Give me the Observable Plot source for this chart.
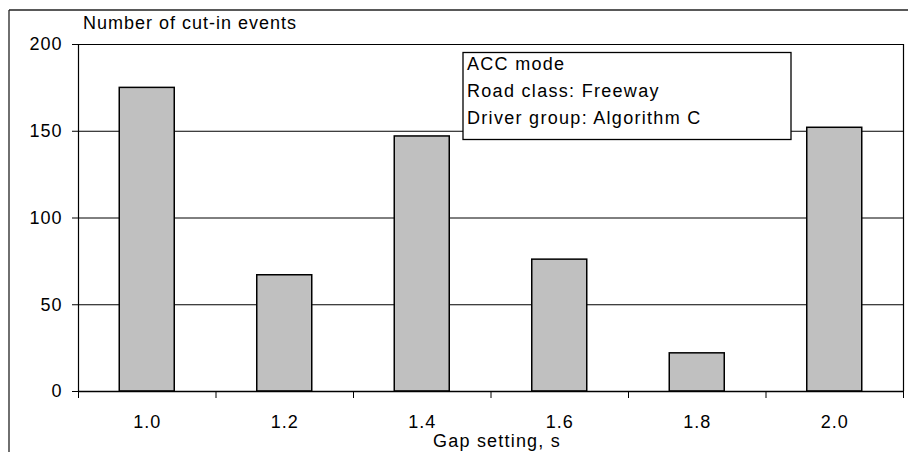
<!DOCTYPE html>
<html>
<head>
<meta charset="utf-8">
<script src="https://cdn.jsdelivr.net/npm/d3@7"></script>
<script src="https://cdn.jsdelivr.net/npm/@observablehq/plot@0.6"></script>
<style>
  html, body { margin: 0; padding: 0; background: #fff; }
  #chart svg { display: block; }
</style>
</head>
<body>
<div id="chart"></div>
<script>
// ---- Data ----
const gaps = [1.0, 1.2, 1.4, 1.6, 1.8, 2.0];
const counts = [175, 67, 147, 76, 22, 152];
const xTickLabels = ["1.0", "1.2", "1.4", "1.6", "1.8", "2.0"];
const xBoundaries = [0.9, 1.1, 1.3, 1.5, 1.7, 1.9, 2.1];
const yTicks = [0, 50, 100, 150, 200];
const yTitle = "Number of cut-in events";
const xTitle = "Gap setting, s";
const legendLines = ["ACC mode", "Road class: Freeway", "Driver group: Algorithm C"];

const data = gaps.map((g, i) => ({gap: g, count: counts[i], label: xTickLabels[i]}));
const halfBar = 0.04; // bar half-width in gap units (gap width 150%)

const FONT = "'Liberation Sans', Arial, sans-serif";

const chart = Plot.plot({
  width: 908,
  height: 452,
  marginLeft: 78,
  marginRight: 5,
  marginTop: 44,
  marginBottom: 61,
  x: {domain: [0.9, 2.1], axis: null},
  y: {domain: [0, 200], axis: null},
  style: {fontFamily: FONT, fontSize: "18px", color: "#000", background: "#fff", overflow: "visible"},
  marks: [
    Plot.ruleY(yTicks.filter(v => v > 0), {stroke: "#000", strokeWidth: 1}),
    Plot.rect(data, {
      x1: d => d.gap - halfBar, x2: d => d.gap + halfBar,
      y1: 0, y2: "count",
      fill: "#c0c0c0", stroke: "#000", strokeWidth: 1.5
    }),
    Plot.axisY({ticks: yTicks, tickSize: 6, tickPadding: 10, label: null, fontSize: 18, stroke: "#000", strokeOpacity: 1}),
    Plot.axisX({ticks: xBoundaries, tickSize: 7, tickFormat: () => "", label: null, stroke: "#000", strokeOpacity: 1}),
    Plot.axisX({ticks: gaps, tickSize: 0, tickPadding: 24, tickFormat: d => xTickLabels[gaps.indexOf(d)], label: null, fontSize: 18}),
    Plot.ruleX([0.9, 2.1], {y1: 0, y2: 200, stroke: "#000", strokeWidth: 1.2}),
    Plot.ruleY([0], {stroke: "#000", strokeWidth: 1.4})
  ]
});

const svg = d3.select(chart);
svg.selectAll("text").style("letter-spacing", "1px");

// outer frame (chart border, partially visible)
svg.append("line").attr("x1", 9).attr("x2", 908).attr("y1", 10).attr("y2", 10)
  .attr("stroke", "#222").attr("stroke-width", 1.3);
svg.append("line").attr("x1", 9).attr("x2", 9).attr("y1", 10).attr("y2", 452)
  .attr("stroke", "#222").attr("stroke-width", 1.3);

// axis titles
svg.append("text").attr("x", 83).attr("y", 29).attr("text-anchor", "start").text(yTitle)
  .attr("font-family", FONT).attr("font-size", 18).style("letter-spacing", "1px").attr("fill", "#000");
svg.append("text").attr("x", 497).attr("y", 447).attr("text-anchor", "middle").text(xTitle)
  .attr("font-family", FONT).attr("font-size", 18).style("letter-spacing", "1.2px").attr("fill", "#000");

// legend box
const lg = svg.append("g");
lg.append("rect").attr("x", 463).attr("y", 52.5).attr("width", 328).attr("height", 87)
  .attr("fill", "#fff").attr("stroke", "#000").attr("stroke-width", 1.3);
const baselines = [70, 97, 123.5];
legendLines.forEach((t, i) => {
  lg.append("text").attr("x", 467).attr("y", baselines[i]).attr("text-anchor", "start").text(t)
    .attr("font-family", FONT).attr("font-size", 18).style("letter-spacing", "1.3px").attr("fill", "#000");
});

document.getElementById("chart").appendChild(chart);
</script>
</body>
</html>
